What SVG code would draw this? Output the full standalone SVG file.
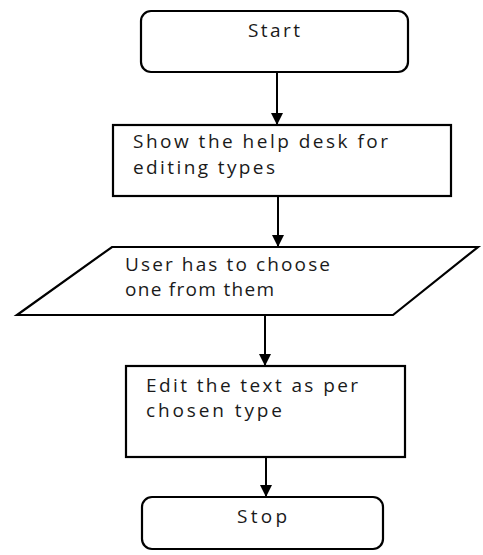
<svg xmlns="http://www.w3.org/2000/svg" width="483" height="555" viewBox="0 0 483 555">
<style>
.shape{fill:#fff;stroke:#000;stroke-width:2.2}
.t{font-family:"Open Sans","Liberation Sans",sans-serif;font-size:19px;fill:#1a1a1a}
.c{stroke:#000;stroke-width:2;fill:none;marker-end:url(#ah)}
</style>
<defs>
<marker id="ah" markerWidth="14" markerHeight="12" refX="12" refY="6" orient="auto" markerUnits="userSpaceOnUse">
<path d="M0,0 L12,6 L0,12 z" fill="#000"/>
</marker>
</defs>
<rect width="483" height="555" fill="#fff"/>
<g id="connectors">
<line class="c" x1="277" y1="72" x2="277" y2="125"/>
<line class="c" x1="278" y1="196" x2="278" y2="247"/>
<line class="c" x1="265" y1="315" x2="265" y2="366"/>
<line class="c" x1="266" y1="457" x2="266" y2="497"/>
</g>
<g id="start">
<rect class="shape" x="141" y="11" width="267" height="61" rx="10"/>
<text class="t" x="248" y="37" textLength="52" lengthAdjust="spacing">Start</text>
</g>
<g id="help">
<rect class="shape" x="113" y="125" width="338" height="71"/>
<text class="t" x="133" y="148" textLength="255" lengthAdjust="spacing">Show the help desk for</text>
<text class="t" x="133" y="174" textLength="142" lengthAdjust="spacing">editing types</text>
</g>
<g id="choose">
<polygon class="shape" points="112,247 478,247 393,315 17,315"/>
<text class="t" x="125" y="271" textLength="205" lengthAdjust="spacing">User has to choose</text>
<text class="t" x="125" y="296" textLength="149" lengthAdjust="spacing">one from them</text>
</g>
<g id="edit">
<rect class="shape" x="126" y="366" width="279" height="91"/>
<text class="t" x="146" y="392" textLength="212" lengthAdjust="spacing">Edit the text as per</text>
<text class="t" x="146" y="417" textLength="136" lengthAdjust="spacing">chosen type</text>
</g>
<g id="stop">
<rect class="shape" x="142" y="497" width="241" height="52" rx="10"/>
<text class="t" x="237" y="523" textLength="50" lengthAdjust="spacing">Stop</text>
</g>
</svg>
